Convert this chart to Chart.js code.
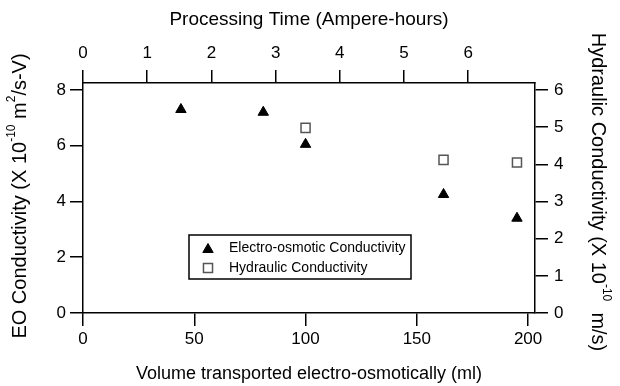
<!DOCTYPE html>
<html>
<head>
<meta charset="utf-8">
<script src="https://cdn.jsdelivr.net/npm/chart.js@4/dist/chart.umd.min.js"></script>
<style>
  html, body { margin: 0; padding: 0; background: #fff; }
  canvas { display: block; }
</style>
</head>
<body>
<canvas id="c" width="620" height="386"></canvas>
<script>
// ---- data ----
const eoVolume = [44, 81, 100, 162, 195];
const eoConductivity = [7.3, 7.2, 6.05, 4.25, 3.4];
const hydVolume = [100, 162, 195];
const hydConductivity = [4.98, 4.12, 4.05];

const bottomTicks = [0, 50, 100, 150, 200];
const topTicks = [0, 1, 2, 3, 4, 5, 6];
const leftTicks = [0, 2, 4, 6, 8];
const rightTicks = [0, 1, 2, 3, 4, 5, 6];

const seriesLabels = ['Electro-osmotic Conductivity', 'Hydraulic Conductivity'];
const topTitle = [{ t: 'Processing Time (Ampere-hours)' }];
const bottomTitle = [{ t: 'Volume transported electro-osmotically (ml)' }];
const leftTitle = [{ t: 'EO Conductivity (X 10' }, { t: '-10', sup: true }, { t: ' m' }, { t: '2', sup: true }, { t: '/s-V)' }];
const rightTitle = [{ t: 'Hydraulic Conductivity (X 10' }, { t: '-10', sup: true }, { t: '  m/s)' }];

// ---- styling ----
const FONT = 'Liberation Sans, Arial, sans-serif';
const TICK_SIZE = 17;
const LINE_W = 1.5;

function fixTicks(arr) {
  return function (scale) { scale.ticks = arr.map(v => ({ value: v })); };
}
function axisCommon(pos, min, max, ticksArr, pad) {
  return {
    type: 'linear', position: pos, min: min, max: max,
    afterBuildTicks: fixTicks(ticksArr),
    grid: { drawOnChartArea: false, drawTicks: true, tickLength: 13, color: '#000', lineWidth: LINE_W },
    border: { display: true, color: '#000', width: LINE_W },
    ticks: { color: '#000', font: { family: FONT, size: TICK_SIZE }, padding: pad, maxRotation: 0, autoSkip: false }
  };
}

const xAxis = axisCommon('bottom', 0, 203.1, bottomTicks, 3);
xAxis.afterFit = s => { s.height = 73; };
const x2Axis = axisCommon('top', 0, 7.04, topTicks, 6);
x2Axis.afterFit = s => { s.height = 83; };
const yAxis = axisCommon('left', 0, 8.25, leftTicks, 4);
yAxis.afterFit = s => { s.width = 83; };
const y2Axis = axisCommon('right', 0, 6.1875, rightTicks, 6);
y2Axis.afterFit = s => { s.width = 85; };

function measureRich(ctx, segs, size) {
  let w = 0;
  for (const s of segs) {
    ctx.font = (s.sup ? Math.round(size * 0.62) : size) + 'px ' + FONT;
    w += ctx.measureText(s.t).width;
  }
  return w;
}
function drawRich(ctx, segs, size, cx, cy, rot) {
  ctx.save();
  ctx.translate(cx, cy);
  ctx.rotate(rot);
  const w = measureRich(ctx, segs, size);
  let x = -w / 2;
  ctx.fillStyle = '#000';
  ctx.textBaseline = 'middle';
  ctx.textAlign = 'left';
  for (const s of segs) {
    const sz = s.sup ? Math.round(size * 0.62) : size;
    ctx.font = sz + 'px ' + FONT;
    ctx.fillText(s.t, x, s.sup ? -size * 0.42 : 0);
    x += ctx.measureText(s.t).width;
  }
  ctx.restore();
}

const titlesPlugin = {
  id: 'titles',
  afterDraw(chart) {
    const ctx = chart.ctx;
    const a = chart.chartArea;
    const cx = (a.left + a.right) / 2;
    drawRich(ctx, topTitle, 19, cx, 20, 0);
    drawRich(ctx, bottomTitle, 18, cx, 374, 0);
    drawRich(ctx, leftTitle, 20, 20, 196, -Math.PI / 2);
    drawRich(ctx, rightTitle, 20, 598, 192, Math.PI / 2);
  }
};

function legendMarker(ctx, ds, x, y) {
  ctx.save();
  ctx.fillStyle = ds.backgroundColor;
  ctx.strokeStyle = ds.borderColor;
  ctx.lineWidth = ds.borderWidth;
  Chart.helpers.drawPoint(ctx, { pointStyle: ds.pointStyle, radius: ds.pointRadius, rotation: 0, borderWidth: ds.borderWidth }, x, y);
  ctx.restore();
}
const legendPlugin = {
  id: 'boxLegend',
  afterDatasetsDraw(chart) {
    const ctx = chart.ctx;
    const bx = 189, by = 235, bw = 222, bh = 44;
    ctx.save();
    ctx.fillStyle = '#fff';
    ctx.fillRect(bx, by, bw, bh);
    ctx.strokeStyle = '#000';
    ctx.lineWidth = LINE_W;
    ctx.strokeRect(bx, by, bw, bh);
    ctx.restore();
    const rows = [248, 268];
    chart.data.datasets.forEach((ds, i) => {
      legendMarker(ctx, ds, 208, rows[i] + (ds.pointStyle === 'triangle' ? 1.5 : 0));
      ctx.save();
      ctx.font = '14px ' + FONT;
      ctx.fillStyle = '#000';
      ctx.textBaseline = 'middle';
      ctx.fillText(ds.label, 229, rows[i]);
      ctx.restore();
    });
  }
};

new Chart(document.getElementById('c'), {
  type: 'scatter',
  data: {
    datasets: [
      {
        label: seriesLabels[0],
        data: eoVolume.map((v, i) => ({ x: v, y: eoConductivity[i] })),
        xAxisID: 'x', yAxisID: 'y',
        pointStyle: 'triangle', pointRadius: 6, pointHoverRadius: 6,
        backgroundColor: '#000', borderColor: '#000', borderWidth: 1
      },
      {
        label: seriesLabels[1],
        data: hydVolume.map((v, i) => ({ x: v, y: hydConductivity[i] })),
        xAxisID: 'x', yAxisID: 'y2',
        pointStyle: 'rect', pointRadius: 6.4, pointHoverRadius: 6.4,
        backgroundColor: '#fff', borderColor: '#555', borderWidth: 1.5
      }
    ]
  },
  options: {
    responsive: false,
    devicePixelRatio: 1,
    animation: false,
    layout: { padding: 0 },
    plugins: { legend: { display: false }, tooltip: { enabled: false }, title: { display: false } },
    scales: { x: xAxis, x2: x2Axis, y: yAxis, y2: y2Axis }
  },
  plugins: [titlesPlugin, legendPlugin]
});
</script>
</body>
</html>
